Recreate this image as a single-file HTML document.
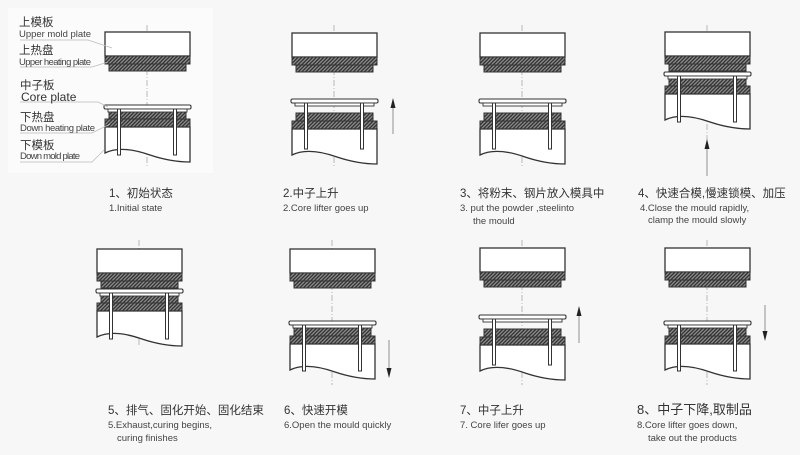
<!DOCTYPE html>
<html><head><meta charset="utf-8"><style>
html,body{margin:0;padding:0;background:#f7f7f7;}
svg{display:block}
text{font-family:"Liberation Sans","Noto Sans CJK SC",sans-serif;fill:#333}
.en{font-size:9.5px;fill:#444}
.cn{font-size:11.5px;fill:#333}
</style></head><body>
<svg width="800" height="455" viewBox="0 0 800 455" xmlns="http://www.w3.org/2000/svg">
<defs>
<pattern id="h" width="2.6" height="2.6" patternUnits="userSpaceOnUse" patternTransform="rotate(45)">
<rect width="2.6" height="2.6" fill="#8a8a8a"/><rect width="1.3" height="2.6" fill="#333"/>
</pattern>
<g id="up">
<rect x="0" y="0" width="85" height="24" fill="#fff" stroke="#333" stroke-width="1.3"/>
<rect x="0" y="24" width="85" height="8" fill="url(#h)" stroke="#333" stroke-width="1"/>
<rect x="4" y="32" width="77" height="7" fill="url(#h)" stroke="#333" stroke-width="1"/>
</g>
<g id="low">
<rect x="4" y="0" width="77" height="8" fill="url(#h)" stroke="#333" stroke-width="1"/>
<rect x="0" y="8" width="85" height="8" fill="url(#h)" stroke="#333" stroke-width="1"/>
<path d="M0,16 V42 C12,36 28,38 45,44 C60,49 72,51 85,51 V16 Z" fill="#fff" stroke="#333" stroke-width="1.3"/>
</g>
<g id="core">
<rect x="-1" y="0" width="87" height="4" rx="1.5" fill="#fff" stroke="#333" stroke-width="1.1"/>
<rect x="3" y="4" width="79" height="3" fill="#fff" stroke="#333" stroke-width="0.9"/>
<rect x="12.5" y="4" width="3" height="46" fill="#fff" stroke="#333" stroke-width="1"/>
<rect x="68.5" y="4" width="3" height="46" fill="#fff" stroke="#333" stroke-width="1"/>
</g>
</defs>
<rect x="0" y="0" width="800" height="455" fill="#f7f7f7"/>
<rect x="8" y="8" width="205" height="165" fill="#fbfbfb"/>

<g stroke="#aaa" stroke-width="0.8" stroke-dasharray="6,2,1,2">
<line x1="147" y1="25" x2="147" y2="168"/>
<line x1="334" y1="25" x2="334" y2="168"/>
<line x1="522" y1="25" x2="522" y2="168"/>
<line x1="707" y1="25" x2="707" y2="140"/>
<line x1="139" y1="240" x2="139" y2="345"/>
<line x1="332" y1="240" x2="332" y2="385"/>
<line x1="522" y1="240" x2="522" y2="385"/>
<line x1="707" y1="240" x2="707" y2="385"/>
</g>

<use href="#up" x="105" y="32"/><use href="#low" x="105" y="111"/><use href="#core" x="105" y="105"/>
<use href="#up" x="292" y="33"/><use href="#low" x="292" y="113"/><use href="#core" x="292" y="99"/>
<use href="#up" x="480" y="33"/><use href="#low" x="480" y="113"/><use href="#core" x="480" y="99"/>
<use href="#up" x="665" y="32"/><use href="#low" x="665" y="78"/><use href="#core" x="665" y="72"/>
<use href="#up" x="97" y="249"/><use href="#low" x="97" y="295"/><use href="#core" x="97" y="289"/>
<use href="#up" x="290" y="249"/><use href="#low" x="290" y="328"/><use href="#core" x="290" y="321"/>
<use href="#up" x="480" y="248"/><use href="#low" x="480" y="329"/><use href="#core" x="480" y="315"/>
<use href="#up" x="665" y="248"/><use href="#low" x="665" y="328"/><use href="#core" x="665" y="321"/>

<g stroke="#777" stroke-width="0.8">
<line x1="393" y1="104" x2="393" y2="134"/>
<line x1="707" y1="146" x2="707" y2="176"/>
<line x1="389" y1="340" x2="389" y2="372"/>
<line x1="579" y1="312" x2="579" y2="343"/>
<line x1="765" y1="305" x2="765" y2="335"/>
</g>
<g fill="#222">
<path d="M390.5,108 L393,98 L395.5,108 Z"/>
<path d="M704.5,149 L707,139 L709.5,149 Z"/>
<path d="M386.5,368 L389,378 L391.5,368 Z"/>
<path d="M576.5,316 L579,306 L581.5,316 Z"/>
<path d="M762.5,331 L765,341 L767.5,331 Z"/>
</g>

<g stroke="#bbb" stroke-width="0.7" fill="none">
<polyline points="20,40 88,40 112,48"/>
<polyline points="20,67 92,67 108,62"/>
<polyline points="20,102 98,102 108,107"/>
<polyline points="20,133 92,133 110,124"/>
<polyline points="20,162 92,162 104,150"/>
</g>
<text x="19" y="26" class="cn">上模板</text>
<text x="19" y="37" class="en" textLength="72">Upper mold plate</text>
<text x="19" y="54" class="cn">上热盘</text>
<text x="19" y="65" class="en" textLength="72">Upper heating plate</text>
<text x="20" y="89" class="cn">中子板</text>
<text x="21" y="101" style="font-size:12px;fill:#333">Core plate</text>
<text x="20" y="121" class="cn">下热盘</text>
<text x="20" y="131" class="en" textLength="75">Down heating plate</text>
<text x="20" y="149" class="cn">下模板</text>
<text x="20" y="159" class="en" textLength="60">Down mold plate</text>

<text x="109" y="197" class="cn">1、初始状态</text>
<text x="109" y="211" class="en">1.Initial state</text>
<text x="283" y="197" class="cn">2.中子上升</text>
<text x="283" y="211" class="en">2.Core lifter goes up</text>
<text x="460" y="197" class="cn">3、将粉末、钢片放入模具中</text>
<text x="460" y="211" class="en">3.  put the powder ,steelinto</text>
<text x="473" y="224" class="en">the mould</text>
<text x="638" y="197" class="cn">4、快速合模,慢速锁模、加压</text>
<text x="640" y="211" class="en">4.Close the mould rapidly,</text>
<text x="648" y="223" class="en">clamp the mould slowly</text>

<text x="108" y="414" class="cn">5、排气、固化开始、固化结束</text>
<text x="108" y="428" class="en">5.Exhaust,curing begins,</text>
<text x="117" y="441" class="en">curing finishes</text>
<text x="284" y="414" class="cn">6、快速开模</text>
<text x="284" y="428" class="en">6.Open the mould quickly</text>
<text x="460" y="414" class="cn">7、中子上升</text>
<text x="460" y="428" class="en">7. Core lifer goes up</text>
<text x="637" y="414" class="cn" style="font-size:13px">8、中子下降,取制品</text>
<text x="637" y="428" class="en">8.Core lifter goes down,</text>
<text x="648" y="441" class="en">take out the products</text>
</svg>
</body></html>
